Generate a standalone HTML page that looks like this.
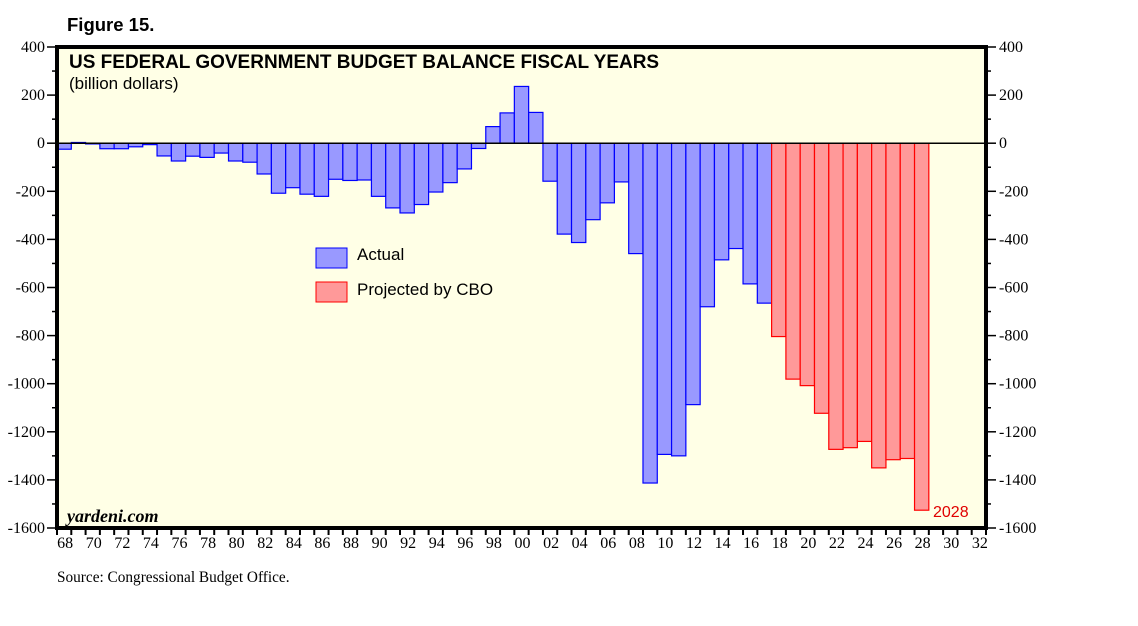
<!DOCTYPE html>
<html><head><meta charset="utf-8"><style>
body{margin:0;background:#fff;}
svg text{font-family:"Liberation Serif",serif;}
</style></head><body>
<svg width="1138" height="621" viewBox="0 0 1138 621" xmlns="http://www.w3.org/2000/svg">
<text x="67" y="31" style="font-family:'Liberation Sans',sans-serif" font-weight="bold" font-size="18.5">Figure 15.</text>
<rect x="57" y="47" width="929" height="481" fill="#ffffe6"/>
<g id="bars"></g>
<line x1="57" y1="143" x2="986" y2="143" stroke="#000" stroke-width="1.5" id="zero"/>
<rect x="57" y="47" width="929" height="481" fill="none" stroke="#000" stroke-width="4"/>
<g id="axes"></g>
<text x="69" y="68" style="font-family:'Liberation Sans',sans-serif" font-weight="bold" font-size="19">US FEDERAL GOVERNMENT BUDGET BALANCE FISCAL YEARS</text>
<text x="69" y="89" style="font-family:'Liberation Sans',sans-serif" font-size="17">(billion dollars)</text>
<rect x="316" y="248" width="31" height="20" fill="#9999ff" stroke="#0000ff"/>
<text x="357" y="260" style="font-family:'Liberation Sans',sans-serif" font-size="17">Actual</text>
<rect x="316" y="282" width="31" height="20" fill="#ff9999" stroke="#ff0000"/>
<text x="357" y="295" style="font-family:'Liberation Sans',sans-serif" font-size="17">Projected by CBO</text>
<text x="67" y="522" font-style="italic" font-weight="bold" font-size="18">yardeni.com</text>
<text x="933" y="517" style="font-family:'Liberation Sans',sans-serif" font-size="16" fill="#e00000">2028</text>
<text x="57" y="582" font-size="15.3">Source: Congressional Budget Office.</text>
</svg>
<script>
const actualValues=[-25,3,-3,-23,-23,-15,-6,-53,-74,-54,-59,-41,-74,-79,-128,-208,-185,-212,-221,-150,-155,-153,-221,-269,-290,-255,-203,-164,-107,-22,69,126,236,128,-158,-378,-413,-318,-248,-161,-459,-1413,-1294,-1300,-1087,-680,-485,-438,-585,-665];
const projectedValues=[-804,-981,-1008,-1123,-1273,-1266,-1240,-1350,-1316,-1311,-1526];
const firstYear=1968, lastYear=2032;
const yTicks=[400,200,0,-200,-400,-600,-800,-1000,-1200,-1400,-1600];
const NS="http://www.w3.org/2000/svg";
const L=57,R=986,T=47,B=528,yMax=400,yMin=-1600;
const slot=(R-L)/(lastYear-firstYear+1);
const x=yr=>L+(yr-firstYear)*slot;
const y=v=>T+(yMax-v)/(yMax-yMin)*(B-T);
const bars=document.getElementById('bars'), axes=document.getElementById('axes');
function mk(tag,a,p){const e=document.createElementNS(NS,tag);for(const k in a)e.setAttribute(k,a[k]);p.appendChild(e);return e;}
document.getElementById('zero').setAttribute('y1',y(0));document.getElementById('zero').setAttribute('y2',y(0));
function drawBar(yr,v,fill,stroke,name){
  const y0=y(0),y1=y(v);
  const r=mk('rect',{x:x(yr),y:Math.min(y0,y1),width:slot,height:Math.abs(y1-y0),fill:fill,stroke:stroke,'stroke-width':1.2},bars);
  
  
}
actualValues.forEach((v,i)=>drawBar(firstYear+i,v,'#9999ff','#0000ff','bar-actual-'+(firstYear+i)));
projectedValues.forEach((v,i)=>drawBar(firstYear+actualValues.length+i,v,'#ff9999','#ff0000','bar-projected-'+(firstYear+actualValues.length+i)));
yTicks.forEach(t=>{
  const yy=y(t);
  mk('line',{x1:L-10,x2:L,y1:yy,y2:yy,stroke:'#000','stroke-width':1.5},axes);
  mk('line',{x1:R,x2:R+10,y1:yy,y2:yy,stroke:'#000','stroke-width':1.5},axes);
  const ym=y(t-100);
  if(t>yMin){mk('line',{x1:L-5,x2:L,y1:ym,y2:ym,stroke:'#000','stroke-width':1.5},axes);mk('line',{x1:R,x2:R+5,y1:ym,y2:ym,stroke:'#000','stroke-width':1.5},axes);}
  const a=mk('text',{x:L-12,y:yy+5,'text-anchor':'end','font-size':16},axes);a.textContent=t;
  
  
  const b=mk('text',{x:R+13,y:yy+5,'font-size':16},axes);b.textContent=t;
  
  
});
for(let yr=firstYear;yr<=lastYear+1;yr++){
  const xx=x(yr);
  mk('line',{x1:xx,x2:xx,y1:B,y2:B+7,stroke:'#000','stroke-width':2},axes);
  if((yr-firstYear)%2===0&&yr<=lastYear){
    const t=mk('text',{x:xx+slot/2+1,y:B+20,'text-anchor':'middle','font-size':16},axes);
    t.textContent=String(yr%100).padStart(2,'0');
    
    
  }
}
</script>
</body></html>
